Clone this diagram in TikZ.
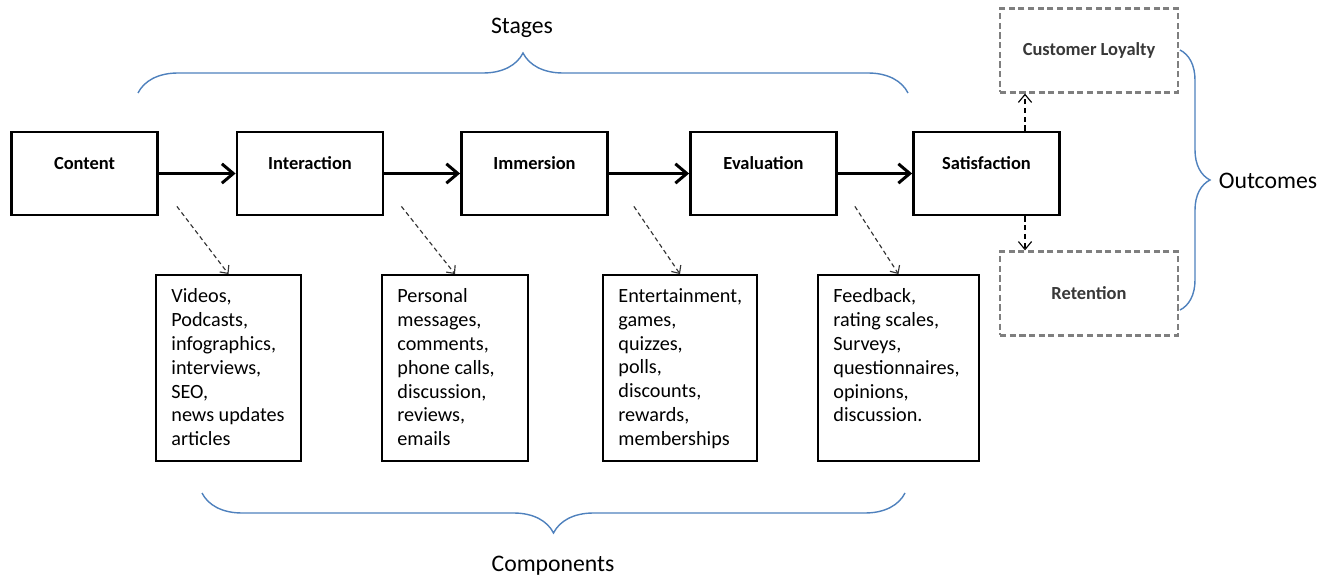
\documentclass[tikz,border=0pt]{standalone}
\usepackage{fontspec}
\setmainfont{Carlito}
\usetikzlibrary{arrows.meta,positioning,calc,decorations.pathreplacing}
\definecolor{braceblue}{RGB}{79,129,189}
\definecolor{outgray}{RGB}{127,127,127}
\tikzset{
    stage/.style={draw, line width=1.6pt, minimum width=2.92cm, minimum height=1.66cm,
                  font=\fontsize{10.5}{12}\selectfont\bfseries, text height=7pt, text depth=12pt},
    comp/.style={draw, line width=1.1pt, minimum width=2.9cm, minimum height=3.72cm},
    items/.style={anchor=north west, inner sep=0pt, align=left, font=\fontsize{11.5}{13.6}\selectfont},
    outcome/.style={draw=outgray, line width=1.3pt, dash pattern=on 3.5pt off 2pt,
                    minimum width=3.56cm, minimum height=1.68cm, text=black!78,
                    font=\fontsize{10.5}{12}\selectfont\bfseries},
    flow/.style={line width=1.7pt, -{Straight Barb[length=6.5pt,width=11pt]}},
    link/.style={black!80, line width=0.65pt, dash pattern=on 2.5pt off 1.8pt,
                 -{Straight Barb[length=3.5pt,width=6.5pt]}},
    outlink/.style={line width=0.65pt, dash pattern=on 3pt off 2pt,
                    -{Straight Barb[length=4.5pt,width=7.5pt]}},
    group/.style={braceblue, line width=0.8pt, decorate},
    title/.style={font=\fontsize{13.5}{16}\selectfont},
}

\begin{document}
\begin{tikzpicture}[x=0.02cm, y=-0.02cm]
    \useasboundingbox (0,0) rectangle (1338,577);

    % Stages
    \node[stage] (content) at (84.5,173.5) {Content};
    \node[stage] (interact) at (310,173.5) {Interaction};
    \node[stage] (immerse) at (534.5,173.5) {Immersion};
    \node[stage] (evaluate) at (763.5,173.5) {Evaluation};
    \node[stage] (satisfy) at (986.5,173.5) {Satisfaction};

    \draw[flow] (content) -- (interact);
    \draw[flow] (interact) -- (immerse);
    \draw[flow] (immerse) -- (evaluate);
    \draw[flow] (evaluate) -- (satisfy);

    % Components
    \node[comp] (comp1) at (228.5,368) {};
    \node[comp, minimum width=2.92cm] (comp2) at (455,368) {};
    \node[comp, minimum width=3.08cm] (comp3) at (680,368) {};
    \node[comp, minimum width=3.22cm] (comp4) at (898.5,368) {};

    \node[items] (list1) at ($(comp1.north west)+(16,14)$)
        {Videos,\\Podcasts,\\infographics,\\interviews,\\SEO,\\news updates\\articles};
    \node[items] (list2) at ($(comp2.north west)+(16,14)$)
        {Personal\\messages,\\comments,\\phone calls,\\discussion,\\reviews,\\emails};
    \node[items] (list3) at ($(comp3.north west)+(16,14)$)
        {Entertainment,\\games,\\quizzes,\\polls,\\discounts,\\rewards,\\memberships};
    \node[items] (list4) at ($(comp4.north west)+(16,14)$)
        {Feedback,\\rating scales,\\Surveys,\\questionnaires,\\opinions,\\discussion.};

    \foreach \s/\c/\dx in {content/comp1/18, interact/comp2/17, immerse/comp3/25, evaluate/comp4/17} {
        \coordinate (\s-out) at ($(\s.south east)+(\dx,-10)$);
        \draw[link] (\s-out) -- (\c.north);
    }

    % Outcomes
    \node[outcome] (loyal) at (1089,50.5) {Customer Loyalty};
    \node[outcome] (retain) at (1089,293.5) {Retention};

    \coordinate (sat-top) at ($(satisfy.north)+(38.5,0)$);
    \coordinate (sat-bot) at ($(satisfy.south)+(38.5,0)$);
    \draw[outlink] (sat-top) -- (sat-top |- loyal.south);
    \draw[outlink] (sat-bot) -- (sat-bot |- retain.north);

    % Braces
    \coordinate (stage-l) at (138,93);
    \coordinate (stage-r) at (908,93);
    \draw[group, decoration={brace, amplitude=0.8cm}] (stage-l) -- (stage-r);
    \node[title] (stages) at (522,28) {Stages};

    \coordinate (comp-l) at (202,493);
    \coordinate (comp-r) at (905,493);
    \draw[group, decoration={brace, amplitude=0.8cm}] (comp-r) -- (comp-l);
    \node[title] (comps) at (553,566) {Components};

    \coordinate (out-t) at (1180,50);
    \coordinate (out-b) at (1180,310);
    \draw[group, decoration={brace, amplitude=0.6cm}] (out-t) -- (out-b);
    \node[title] (outs) at (1268,181) {Outcomes};
\end{tikzpicture}
\end{document}
